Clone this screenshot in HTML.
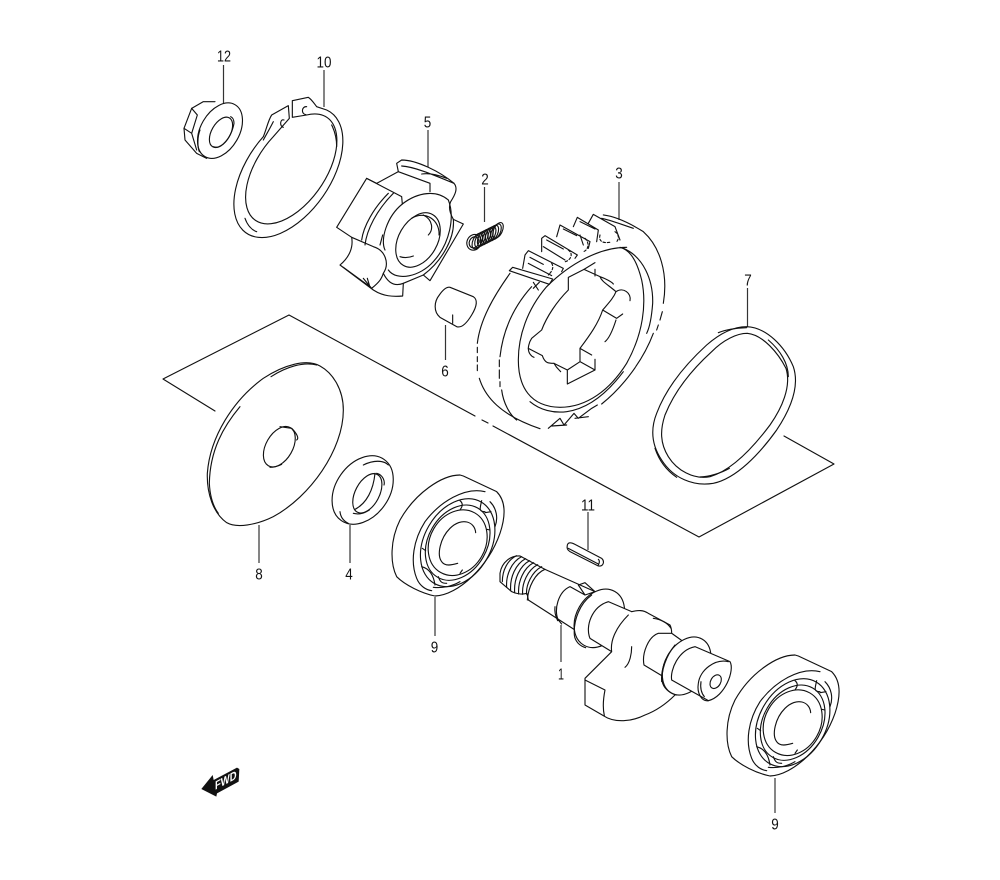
<!DOCTYPE html>
<html><head><meta charset="utf-8"><style>
html,body{margin:0;padding:0;background:#fff}
svg{display:block}
text{font-family:"Liberation Sans",sans-serif;font-size:15.500px;fill:#111;text-anchor:middle}
.z path,.z ellipse,.z line{fill:none;stroke:#111;stroke-width:3.400;stroke-linejoin:round;stroke-linecap:round}
.z .f{fill:#fff}
.l line{stroke:#333;stroke-width:1.200}
</style></head><body>
<svg width="1000" height="880" viewBox="0 0 1000 880" xmlns="http://www.w3.org/2000/svg">
<rect width="1000" height="880" fill="#fff"/>
<!-- plane -->
<g class="z"><path style="stroke-width:1.150" d="M215,411L163,379L289,315L475,416M482,420L488,423M493,426L699,537L834,464L784,436"/></g>
<!-- leaders -->
<g class="l">
<line x1="223.500" y1="65" x2="223.500" y2="103"/><line x1="324" y1="70" x2="324" y2="107"/>
<line x1="428" y1="130" x2="428" y2="168"/><line x1="484.500" y1="187" x2="484.500" y2="222"/>
<line x1="619" y1="182" x2="619" y2="220"/><line x1="747.500" y1="288" x2="747.500" y2="327"/>
<line x1="445.500" y1="325" x2="445.500" y2="360"/><line x1="259" y1="525" x2="259" y2="563"/>
<line x1="350" y1="525" x2="350" y2="563"/><line x1="435" y1="597" x2="435" y2="636"/>
<line x1="588" y1="512" x2="588" y2="550"/><line x1="561" y1="625" x2="561" y2="662"/>
<line x1="775" y1="778" x2="775" y2="813"/>
</g>
<!-- Group A -->
<g class="z" transform="translate(160,40) scale(.33333)">
<!-- nut 12 -->
<path d="M165,185H130L95,205L72,265L75,300L110,340L140,355"/>
<path d="M95,205L112,225M72,265L95,280M95,280L112,225M95,280L110,330"/>
<ellipse class="f" cx="180" cy="272" rx="58" ry="90" transform="rotate(30 180 272)"/>
<ellipse cx="183" cy="277" rx="28" ry="50" transform="rotate(30 183 277)"/>
<path d="M160,320C185,330 215,290 222,250C222,240 218,232 212,230M120,270C112,290 112,320 118,335"/>
<!-- ring 10 -->
<path d="M385,197L335,225C325,240 320,265 310,290A126,221 35 1 0 500,210L470,200C462,190 455,178 445,172L397,182L397,232L440,225A103,188 35 1 1 340,290L388,235Z"/>
<path d="M310,300C318,285 330,265 340,245M255,535C262,555 275,570 290,575M515,255C525,275 530,300 530,320"/>
<path d="M372,240C360,235 358,260 370,262M440,200C425,198 422,222 438,224"/>
<!-- roller 6 -->
<path class="f" d="M870,742L940,770C955,780 950,800 935,825C920,850 905,865 890,860L840,832C820,815 822,785 838,765C850,748 860,740 870,742Z"/>
<path d="M878,825V850"/>
</g>
<!-- part 5 -->
<g class="z" transform="translate(330,150) scale(.33333)">
<path class="f" d="M110,85L20,232L65,262C70,290 60,320 30,345L130,420C160,440 190,440 218,438L220,400L280,375L300,392L400,222L370,208C360,190 355,170 362,155C375,135 385,115 372,100C330,65 260,30 215,30L200,40L205,65L140,100Z"/>
<path d="M110,85L215,140L217,162C265,125 320,120 355,150"/>
<path d="M205,65L300,100V125M215,48C250,50 300,70 372,100M275,72C300,68 325,75 350,85"/>
<path d="M190,130C140,180 110,240 105,285M175,130C130,175 100,230 95,270M158,255L150,285"/>
<path d="M217,162C170,200 150,270 165,300"/>
<path d="M65,262L130,290C165,300 180,340 160,370C155,385 150,395 125,415"/>
<path d="M160,370C175,400 195,410 220,400M370,208C375,260 340,330 280,375M40,352L120,410M100,385L125,415M112,385L120,412"/>
<path d="M355,150C375,200 360,280 310,335C270,380 200,395 175,360"/>
<ellipse cx="264" cy="270" rx="58" ry="88" transform="rotate(30 264 270)"/>
<path d="M245,205C285,180 330,210 327,255M280,195C310,210 310,240 295,255M210,320C225,325 240,322 250,318"/>
</g>
<!-- Group B -->
<g class="z" transform="translate(460,170) scale(.33333)">
<!-- spring 2 -->
<ellipse cx="42" cy="217" rx="21" ry="24" transform="rotate(25 42 217)"/>
<ellipse cx="42" cy="217" rx="14" ry="17" transform="rotate(25 42 217)"/>
<ellipse cx="52" cy="213" rx="13" ry="25" transform="rotate(25 52 213)"/>
<ellipse cx="60" cy="209" rx="13" ry="25" transform="rotate(25 60 209)"/>
<ellipse cx="68" cy="205" rx="13" ry="25" transform="rotate(25 68 205)"/>
<ellipse cx="76" cy="201" rx="13" ry="25" transform="rotate(25 76 201)"/>
<ellipse cx="84" cy="197" rx="13" ry="25" transform="rotate(25 84 197)"/>
<ellipse cx="92" cy="193" rx="13" ry="25" transform="rotate(25 92 193)"/>
<ellipse cx="100" cy="189" rx="13" ry="25" transform="rotate(25 100 189)"/>
<ellipse cx="108" cy="185" rx="13" ry="25" transform="rotate(25 108 185)"/>
<ellipse cx="114" cy="181" rx="13" ry="25" transform="rotate(25 114 181)"/>
<!-- gear outer -->
<path d="M150,310C100,380 60,450 52,520"/>
<path d="M52,532V548M52,560V575M52,585V602"/>
<path d="M58,625C75,680 120,735 240,776"/>
<path d="M215,350C170,400 130,470 120,560"/>
<path d="M118,570V590M118,600V625M120,635V650"/>
<path d="M125,660C130,700 150,735 170,750"/>
<path d="M430,135C470,140 510,160 550,185C600,230 625,310 610,400"/>
<path d="M607,425L600,450M595,465L590,480"/>
<path d="M580,490C550,570 490,650 425,702"/>
<path d="M265,775L300,745L312,765L342,730L355,745L395,715L412,705M275,768L320,765M345,745L385,740"/>
<!-- face -->
<path d="M500,232C420,232 330,280 260,350C200,420 175,500 175,570C175,650 210,710 300,712C380,712 450,660 500,580C550,490 560,400 545,330C530,270 510,240 480,232"/>
<path d="M210,695C240,720 280,730 320,725C390,715 445,665 490,605"/>
<path d="M490,235C550,260 580,330 578,400C575,440 570,470 560,490"/>
<!-- ring 7 -->
<path d="M860,470C920,472 975,530 1000,590C1020,650 990,720 950,780C900,850 830,925 760,940C700,950 640,925 605,870C575,825 570,780 590,730C620,650 680,580 740,525C780,490 820,470 860,470Z"/>
<path d="M862,490C910,495 955,550 978,595C995,650 965,715 930,765C885,825 820,900 750,920C700,930 650,900 625,860C600,820 600,780 615,735C645,660 700,595 755,545C790,510 830,490 862,490Z"/>
<path d="M775,488C800,478 830,474 860,473M925,510C960,540 985,580 985,620M585,835C600,880 625,905 650,922M720,921C750,920 785,908 808,895"/>
</g>
<!-- spline hole -->
<g class="z" transform="translate(510,240) scale(.33333)">
<path d="M255,68L222,88L175,112V150C140,185 110,230 95,270L65,295C55,310 55,325 55,325L97,347C105,370 115,370 132,370L172,390V432L255,390V358M210,365V325L245,345M210,365L172,390M210,365L255,390"/>
<path d="M210,325C240,285 265,250 278,210C295,190 310,175 318,155C295,135 275,125 270,110L222,88M255,88V108M270,110C285,115 305,125 310,132M318,155C340,140 365,160 360,182M278,210L320,235L338,222M318,240C310,265 298,295 285,305M55,325C55,340 65,350 72,352M132,370C140,385 150,392 152,395"/>
</g>
<!-- teeth -->
<g class="z" transform="translate(500,205) scale(.33333)">
<path d="M28,197L38,187L158,222L148,238L28,197Z"/>
<path d="M68,190L75,150L85,137L190,190L185,200M90,157L130,178M85,175L155,212"/>
<path d="M125,140V100L135,92L232,150L225,160M140,105L190,132M130,125L195,165"/>
<path d="M170,95L180,60L270,110L265,130M190,72L230,92M240,90L250,120"/>
<path d="M220,65L232,37L295,75L290,110M240,50L285,72"/>
<path d="M265,55L280,28L345,65L360,105M305,40C330,45 355,55 400,70"/>
<path d="M100,232L115,255M118,232L100,250"/>
<path stroke-dasharray="7 6" d="M155,175C165,190 150,205 145,210M205,135C225,150 205,170 195,170M255,100C270,115 265,135 250,140M300,90C295,110 310,115 330,112M345,80C360,90 355,105 350,110"/>
</g>
<!-- Group D -->
<g class="z" transform="translate(160,350) scale(.33333)">
<!-- disc 8 -->
<path d="M480,48C520,70 550,120 550,180C550,300 450,440 340,500C290,525 230,535 200,518C160,490 140,430 142,370C150,260 220,150 310,85C370,45 440,25 480,48Z"/>
<path d="M240,170C190,230 150,300 148,400C150,440 160,470 175,490M333,80C380,50 430,35 470,45"/>
<ellipse cx="358" cy="290" rx="40" ry="66" transform="rotate(30 358 290)"/>
<path d="M360,230L395,235C410,250 418,265 410,270M330,352C345,352 355,348 365,343"/>
<!-- washer 4 -->
<ellipse cx="608" cy="420" rx="80" ry="112" transform="rotate(35 608 420)"/>
<ellipse cx="622" cy="430" rx="36" ry="64" transform="rotate(28 622 430)"/>
<path d="M610,345C640,330 670,330 685,345M645,370C640,420 620,460 585,478M650,370C670,375 675,395 672,405M580,490C600,495 615,488 628,480M540,485C542,505 555,515 565,520"/>
</g>
<!-- bearing -->
<g class="z" transform="translate(385,470) scale(.33333)">
<g id="b">
<path class="f" d="M225,15C170,15 90,70 45,150C15,210 15,280 35,320C60,345 110,370 150,378C220,375 310,290 345,190C365,130 360,90 335,65L235,18Z"/>
<path d="M300,65C240,50 165,95 120,155C85,210 75,275 95,325C105,350 125,360 140,362M315,95C335,115 340,145 330,170M145,352C170,355 200,350 225,335"/>
<ellipse cx="218" cy="218" rx="100" ry="141" transform="rotate(30 218 218)"/>
<ellipse cx="218" cy="218" rx="88" ry="120" transform="rotate(30 218 218)"/>
<ellipse cx="218" cy="218" rx="83" ry="103" transform="rotate(30 218 218)"/>
<path d="M272,188C270,155 230,140 195,175C165,205 155,255 170,275C180,290 200,285 218,280"/>
<path d="M225,92C235,100 232,110 226,118M290,92C285,115 280,125 300,125M318,125L300,128M110,290C130,295 145,310 150,345M160,320C165,335 170,340 185,340M112,235L122,242M315,180L305,178M225,310L232,300"/>
</g>
</g>
<!-- shaft 1 and key 11 -->
<g class="z" transform="translate(480,490) scale(.33333)">
<path d="M262,165C265,155 275,158 285,163L365,205C375,215 370,230 355,228L270,185C262,180 260,175 262,165Z"/>
<path d="M265,175L355,222M355,208C360,212 358,220 355,225"/>
</g>
<g class="z" transform="translate(495,550) scale(.33333)">
<!-- thread and body -->
<path class="f" d="M15,70C20,35 50,15 75,18L150,58L300,125L320,200L240,240L100,150C98,140 97,132 95,130C80,135 60,130 50,125L15,95Z"/>
<path d="M150,58C120,70 100,110 97,150"/>
<path d="M80,20C50,35 32,75 35,112M92,26C62,42 44,82 47,122M104,32C74,48 56,88 59,128M116,38C86,54 68,94 71,132M128,44C98,60 80,100 83,133M140,50C110,66 92,106 95,133M65,17C38,30 22,60 22,95"/>
<path d="M225,110C190,125 175,180 190,210L200,222M180,170C178,185 182,200 188,212M250,105L270,98L300,125L270,135L250,105M225,110L270,135"/>
<!-- flange 1 -->
<ellipse class="f" cx="313" cy="205" rx="69" ry="93" transform="rotate(30 313 205)"/>
<path d="M290,135C255,160 235,210 238,255C240,275 255,288 272,293"/>
<!-- neck -->
<path class="f" d="M340,155L410,185L400,300L350,305L285,265C270,230 290,170 340,155Z"/>
<!-- crank block -->
<path class="f" d="M410,185C430,180 445,180 460,190L525,225C530,235 530,245 530,250L565,275L540,435C520,455 490,480 450,495C410,515 360,520 325,497L270,465V385L350,305C345,270 365,230 400,195"/>
<path d="M270,390L330,420C325,445 322,470 328,497M410,290C410,310 405,340 390,352M475,205C495,208 515,215 528,235"/>
<!-- journal -->
<path class="f" d="M490,250L530,250L565,275L505,380L447,345C440,310 460,260 490,250Z"/>
<!-- flange 2 -->
<ellipse class="f" cx="575" cy="348" rx="65" ry="93" transform="rotate(30 575 348)"/>
<path d="M540,285C515,315 495,365 503,400C510,420 530,432 545,435M522,310C505,340 498,370 500,395"/>
<!-- pin -->
<path class="f" d="M600,290L705,335C720,360 690,440 640,452L530,390C525,360 550,300 600,290Z"/>
<path d="M700,335C660,325 615,360 610,400C605,430 620,455 640,452"/>
<path d="M618,395C615,415 620,430 628,440"/>
<ellipse cx="662" cy="395" rx="15" ry="22" transform="rotate(30 662 395)"/>
</g>
<!-- second bearing -->
<g class="z" transform="translate(720,650) scale(.33333)"><use href="#b"/></g>
<!-- FWD -->
<g transform="translate(192,755) scale(.33333)">
<path d="M28,102L62,60L65,75L135,38L142,42L140,80L75,115L73,125Z" fill="#111"/>
</g>
<text transform="matrix(.9 -.48 0 1 215 790)" style="font-size:12px;font-weight:700;fill:#fff;text-anchor:start" textLength="24" lengthAdjust="spacingAndGlyphs">FWD</text>
<!-- labels -->
<text x="224" y="61.500" textLength="14" lengthAdjust="spacingAndGlyphs">12</text><text x="324" y="67.500" textLength="15" lengthAdjust="spacingAndGlyphs">10</text>
<text x="427.500" y="127.500" textLength="7.500" lengthAdjust="spacingAndGlyphs">5</text><text x="485" y="184.500" textLength="7.500" lengthAdjust="spacingAndGlyphs">2</text>
<text x="619" y="178.500" textLength="7.500" lengthAdjust="spacingAndGlyphs">3</text><text x="748" y="285.500" textLength="7.500" lengthAdjust="spacingAndGlyphs">7</text>
<text x="445" y="376.500" textLength="7.500" lengthAdjust="spacingAndGlyphs">6</text><text x="259" y="579.500" textLength="7.500" lengthAdjust="spacingAndGlyphs">8</text>
<text x="349" y="579.500" textLength="7.500" lengthAdjust="spacingAndGlyphs">4</text><text x="434.500" y="652.500" textLength="7.500" lengthAdjust="spacingAndGlyphs">9</text>
<text x="588" y="510.500" textLength="14" lengthAdjust="spacingAndGlyphs">11</text><text x="561" y="679.500" textLength="6" lengthAdjust="spacingAndGlyphs">1</text>
<text x="775" y="829.500" textLength="7.500" lengthAdjust="spacingAndGlyphs">9</text>
</svg>
</body></html>
